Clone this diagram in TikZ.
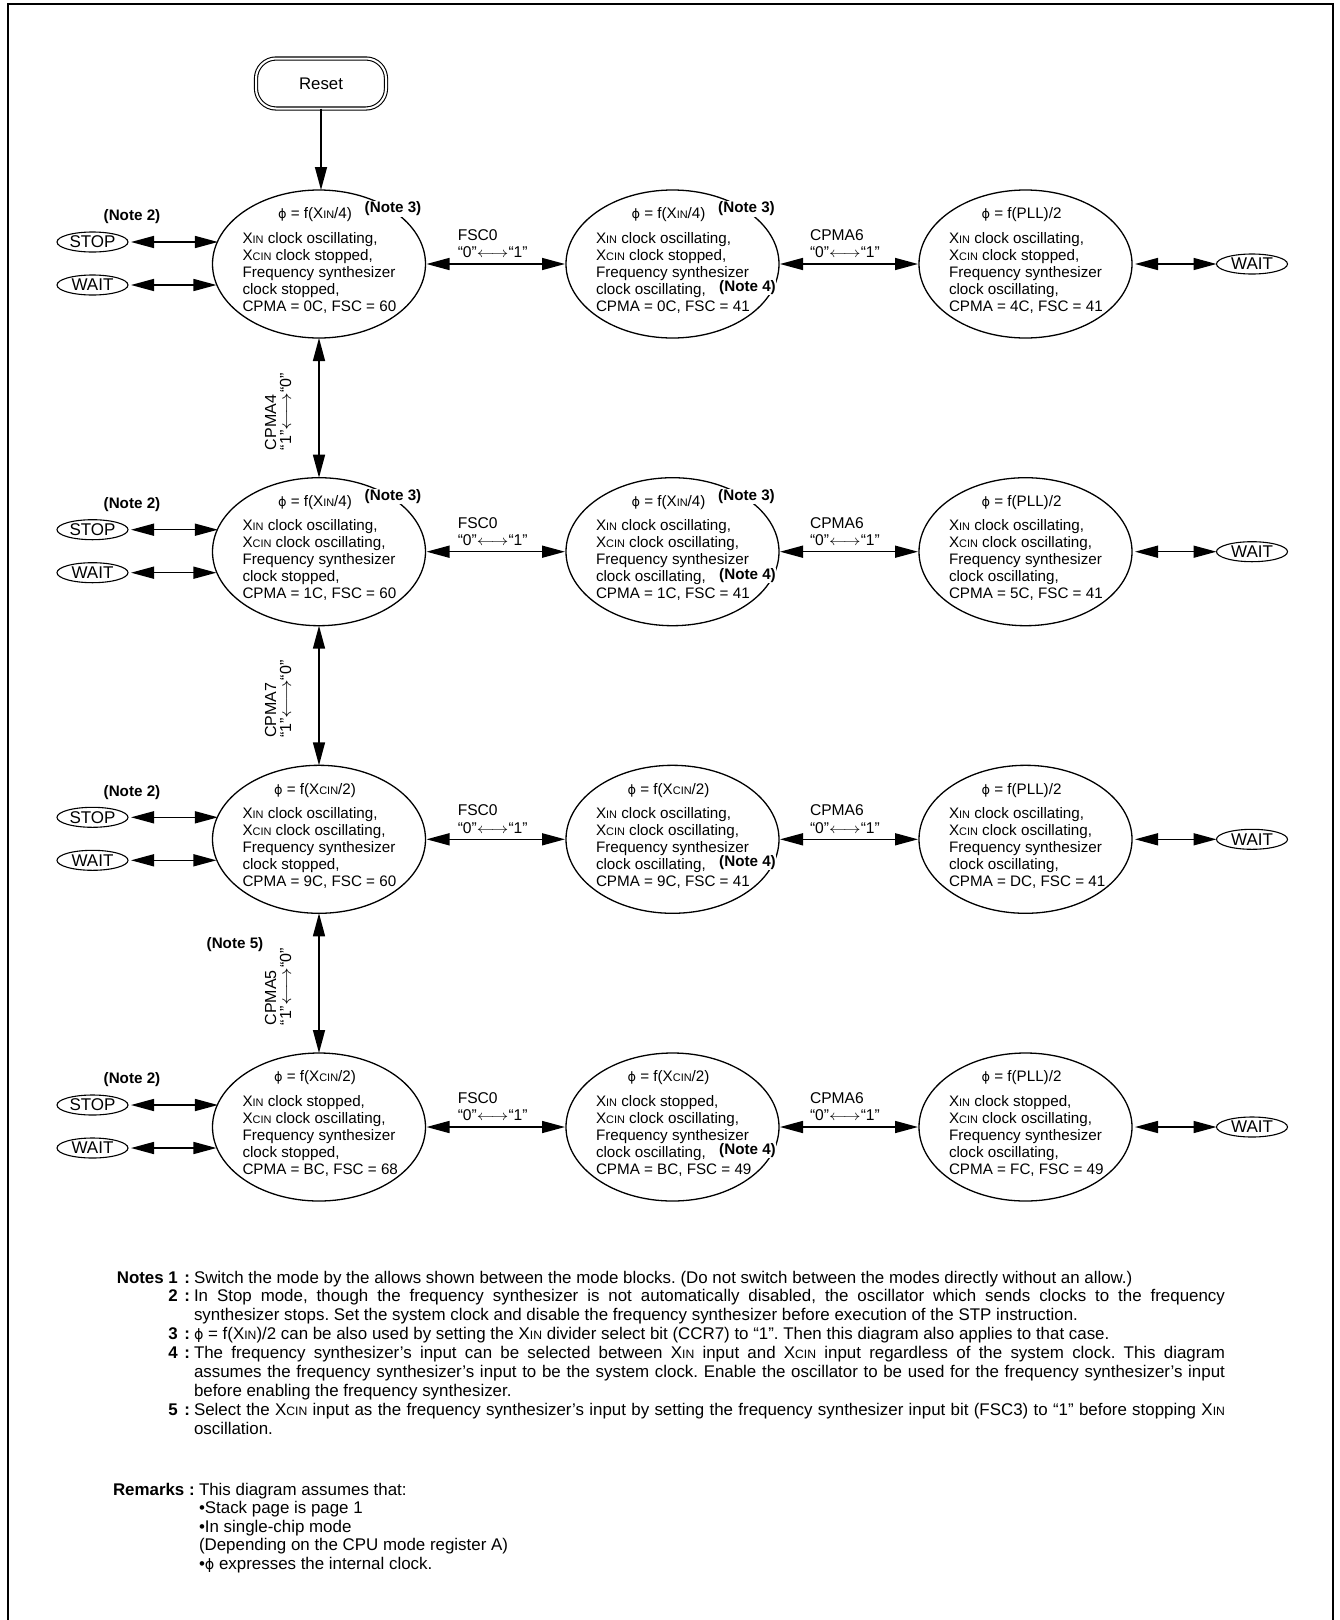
\documentclass[tikz,border=0pt]{standalone}
\usepackage{fontspec}
\usepackage{graphicx}
\setmainfont{Liberation Sans}
\newfontfamily\dejavu{DejaVu Sans}
\usetikzlibrary{arrows.meta,shapes.geometric,calc}

\frenchspacing
\newcommand\Xin{X\scalebox{0.72}{IN}}
\newcommand\Xcin{X\scalebox{0.72}{CIN}}
\newcommand\lra{\scalebox{1.2}[1]{$\longleftrightarrow$}}
\newcommand\ph{{\dejavu\scalebox{0.85}{ϕ}}}
\newcommand\nlab[1]{\makebox[77pt][r]{\textbf{#1}\hspace{6.5pt}\textbf{:}}}

\tikzset{
  every node/.style={inner sep=0pt, outer sep=0pt},
  mode/.style={ellipse, draw, line width=1.3pt, minimum width=213pt, minimum height=148pt},
  small/.style={ellipse, draw, line width=1.1pt, minimum width=71pt, minimum height=20pt, font=\fontsize{17}{17}\selectfont},
  philine/.style={font=\fontsize{15.2}{17}\selectfont},
  body/.style={anchor=north west, align=left, font=\fontsize{15.2}{17}\selectfont},
  note/.style={font=\fontsize{15.2}{17}\selectfont\bfseries, fill=white, inner sep=0.5pt},
  trans/.style={anchor=north west, align=left, font=\fontsize{15.6}{17.5}\selectfont},
  vtrans/.style={anchor=north west, align=left, rotate=90, font=\fontsize{16}{15}\selectfont},
  link/.style={line width=1.5pt, {Triangle[length=23pt,width=12pt]}-{Triangle[length=23pt,width=12pt]}},
  link1/.style={line width=1.5pt, -{Triangle[length=23pt,width=12pt]}},
}

% name, x, y, phi, line1, line2, line4, line5
\newcommand\modeblock[8]{%
  \node[mode] (#1) at (#2,#3) {};
  \node[philine] at ([shift={(-4,-49)}]#1.center) {#4};
  \node[body] at ([shift={(-76.5,-32)}]#1.center) {#5\\#6\\Frequency synthesizer\\#7\\#8};
}
\newcommand\notethree[1]{\node[note] at ([shift={(74,-55)}]#1.center) {(Note 3)};}
\newcommand\notefour[1]{\node[note] at ([shift={(75,23.5)}]#1.center) {(Note 4)};}
% row id, left ellipse, mid ellipse, right ellipse
\newcommand\rowlinks[4]{%
  \node[small] (stop#1) at ([shift={(-226.5,-22)}]#2.center) {STOP};
  \node[small] (waitL#1) at ([shift={(-226.5,21)}]#2.center) {WAIT};
  \node[note] at ([shift={(-187,-47)}]#2.center) {(Note 2)};
  \draw[link] ([xshift=3pt]stop#1.east) -- (stop#1.east -| #2.167.8);
  \draw[link] ([xshift=3pt]waitL#1.east) -- (waitL#1.east -| #2.191.6);
  \node[small] (waitR#1) at ([shift={(226.5,0)}]#4.center) {WAIT};
  \draw[link] ([xshift=3pt]#4.east) -- (waitR#1.west);
  \draw[link] ([xshift=1pt]#2.east) -- ([xshift=-1pt]#3.west);
  \draw[link] ([xshift=1pt]#3.east) -- ([xshift=-1pt]#4.west);
  \node[trans] at ($(#2.east)!0.5!(#3.west)+(-38,-34.5)$) {FSC0\\“0”\lra“1”};
  \node[trans] at ($(#3.east)!0.5!(#4.west)+(-39,-34.5)$) {CPMA6\\“0”\lra“1”};
}

\begin{document}
\begin{tikzpicture}[x=1pt,y=-1pt]
\useasboundingbox (0,0) rectangle (1339,1620);
\draw[line width=2.5pt] (8,1620) -- (8,4) -- (1333,4) -- (1333,1620);

\node[draw, double, double distance=2pt, line width=1.1pt, rounded corners=20pt,
      minimum width=130pt, minimum height=50pt, font=\fontsize{16.8}{17}\selectfont] (reset) at (321,83.5) {Reset};

% Row 1
\modeblock{r1c1}{319}{264}{\ph{} = f(\Xin/4)}{\Xin{} clock oscillating,}{\Xcin{} clock stopped,}{clock stopped,}{CPMA = 0C, FSC = 60}
\modeblock{r1c2}{672.5}{264}{\ph{} = f(\Xin/4)}{\Xin{} clock oscillating,}{\Xcin{} clock stopped,}{clock oscillating,}{CPMA = 0C, FSC = 41}
\modeblock{r1c3}{1025.5}{264}{\ph{} = f(PLL)/2}{\Xin{} clock oscillating,}{\Xcin{} clock stopped,}{clock oscillating,}{CPMA = 4C, FSC = 41}
\notethree{r1c1}\notethree{r1c2}\notefour{r1c2}
\rowlinks{1}{r1c1}{r1c2}{r1c3}

% Row 2
\modeblock{r2c1}{319}{551.7}{\ph{} = f(\Xin/4)}{\Xin{} clock oscillating,}{\Xcin{} clock oscillating,}{clock stopped,}{CPMA = 1C, FSC = 60}
\modeblock{r2c2}{672.5}{551.7}{\ph{} = f(\Xin/4)}{\Xin{} clock oscillating,}{\Xcin{} clock oscillating,}{clock oscillating,}{CPMA = 1C, FSC = 41}
\modeblock{r2c3}{1025.5}{551.7}{\ph{} = f(PLL)/2}{\Xin{} clock oscillating,}{\Xcin{} clock oscillating,}{clock oscillating,}{CPMA = 5C, FSC = 41}
\notethree{r2c1}\notethree{r2c2}\notefour{r2c2}
\rowlinks{2}{r2c1}{r2c2}{r2c3}

% Row 3
\modeblock{r3c1}{319}{839.3}{\ph{} = f(\Xcin/2)}{\Xin{} clock oscillating,}{\Xcin{} clock oscillating,}{clock stopped,}{CPMA = 9C, FSC = 60}
\modeblock{r3c2}{672.5}{839.3}{\ph{} = f(\Xcin/2)}{\Xin{} clock oscillating,}{\Xcin{} clock oscillating,}{clock oscillating,}{CPMA = 9C, FSC = 41}
\modeblock{r3c3}{1025.5}{839.3}{\ph{} = f(PLL)/2}{\Xin{} clock oscillating,}{\Xcin{} clock oscillating,}{clock oscillating,}{CPMA = DC, FSC = 41}
\notefour{r3c2}
\rowlinks{3}{r3c1}{r3c2}{r3c3}

% Row 4
\modeblock{r4c1}{319}{1127}{\ph{} = f(\Xcin/2)}{\Xin{} clock stopped,}{\Xcin{} clock oscillating,}{clock stopped,}{CPMA = BC, FSC = 68}
\modeblock{r4c2}{672.5}{1127}{\ph{} = f(\Xcin/2)}{\Xin{} clock stopped,}{\Xcin{} clock oscillating,}{clock oscillating,}{CPMA = BC, FSC = 49}
\modeblock{r4c3}{1025.5}{1127}{\ph{} = f(PLL)/2}{\Xin{} clock stopped,}{\Xcin{} clock oscillating,}{clock oscillating,}{CPMA = FC, FSC = 49}
\notefour{r4c2}
\rowlinks{4}{r4c1}{r4c2}{r4c3}

% Reset and vertical transitions
\draw[link1] (reset.south) -- (reset.south |- r1c1.north);
\draw[link] (r1c1.south) -- (r2c1.north);
\node[vtrans] at ([shift={(-54,186)}]r1c1.center) {CPMA4\\“1”\lra“0”};
\draw[link] (r2c1.south) -- (r3c1.north);
\node[vtrans] at ([shift={(-54,186)}]r2c1.center) {CPMA7\\“1”\lra“0”};
\draw[link] (r3c1.south) -- (r4c1.north);
\node[vtrans] at ([shift={(-54,186)}]r3c1.center) {CPMA5\\“1”\lra“0”};
\node[note] at ([shift={(-84,105.6)}]r3c1.center) {(Note 5)};

% Notes
\node[anchor=base west, font=\fontsize{16.9}{18.9}\selectfont] (notes) at (113,1283) {%
\begin{tabular}[t]{@{}l@{\hspace{4pt}}l@{}}
\nlab{Notes 1} & Switch the mode by the allows shown between the mode blocks. (Do not switch between the modes directly without an allow.)\\
\nlab{2} & \makebox[1031pt][s]{In Stop mode, though the frequency synthesizer is not automatically disabled, the oscillator which sends clocks to the frequency}\\
 & synthesizer stops. Set the system clock and disable the frequency synthesizer before execution of the STP instruction.\\
\nlab{3} & \ph{} = f(\Xin)/2 can be also used by setting the \Xin{} divider select bit (CCR7) to “1”. Then this diagram also applies to that case.\\
\nlab{4} & \makebox[1031pt][s]{The frequency synthesizer’s input can be selected between \Xin{} input and \Xcin{} input regardless of the system clock. This diagram}\\
 & \makebox[1031pt][s]{assumes the frequency synthesizer’s input to be the system clock. Enable the oscillator to be used for the frequency synthesizer’s input}\\
 & before enabling the frequency synthesizer.\\
\nlab{5} & \makebox[1031pt][s]{Select the \Xcin{} input as the frequency synthesizer’s input by setting the frequency synthesizer input bit (FSC3) to “1” before stopping \Xin}\\
 & oscillation.
\end{tabular}};

% Remarks
\node[anchor=base west, font=\fontsize{16.9}{18.5}\selectfont] (remarks) at (113,1495) {%
\begin{tabular}[t]{@{}l@{\hspace{4pt}}l@{}}
\makebox[82pt][l]{\textbf{Remarks :}} & This diagram assumes that:\\
 & •Stack page is page 1\\
 & •In single-chip mode\\
 & (Depending on the CPU mode register A)\\
 & •\ph{} expresses the internal clock.
\end{tabular}};
\end{tikzpicture}
\end{document}
